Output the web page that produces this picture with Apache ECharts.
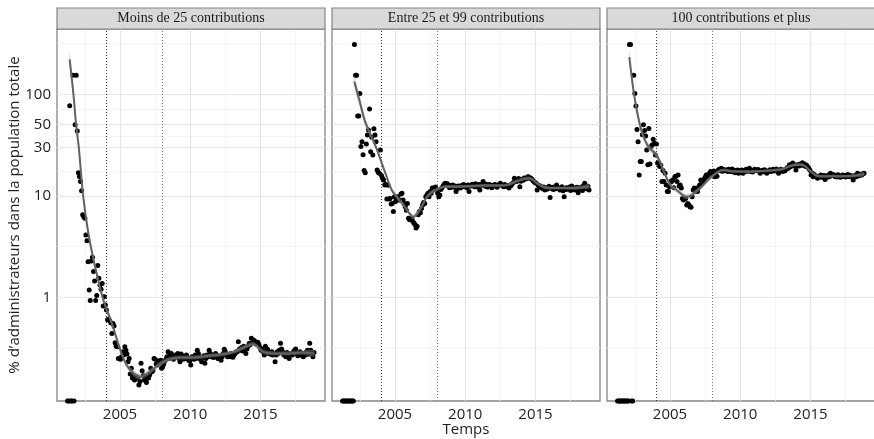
<!DOCTYPE html>
<html>
<head>
<meta charset="utf-8">
<script src="https://cdn.jsdelivr.net/npm/echarts@6/dist/echarts.min.js"></script>
<style>
  html, body { margin: 0; padding: 0; background: #fff; }
  #chart { width: 874px; height: 439px; }
</style>
</head>
<body>
<div id="chart"></div>
<script>
// facet titles
const panelTitles = ["Moins de 25 contributions", "Entre 25 et 99 contributions", "100 contributions et plus"];

// observations every 4 weeks (13 a year) from 2001.27 ; 0 = aucun (drawn on the bottom edge)
const startYear = 2001.27;
const perYear = 13;

const vals1 = [
  0, 0, 77, 0, 0, 154, 0, 50, 154, 43.5,
  16.9, 15.5, 13.8, 11.2, 6.5, 6.2, 6.0, 4.1, 3.6, 2.24, 1.18, 0.93, 2.28,
  2.48, 1.79, 1.45, 0.93, 1.04, 2.05, 1.54, 1.32, 1.2, 1.37, 0.82, 1.01, 0.84,
  0.75, 0.6, 0.61, 0.59, 0.56, 0.44, 0.55, 0.52, 0.357, 0.33, 0.326, 0.25, 0.25,
  0.245, 0.26, 0.29, 0.27, 0.326, 0.30, 0.276, 0.232, 0.25, 0.175, 0.2, 0.16, 0.17,
  0.153, 0.16, 0.165, 0.16, 0.137, 0.148, 0.224, 0.189, 0.17, 0.153, 0.165, 0.145, 0.16,
  0.16, 0.171, 0.2, 0.185, 0.19, 0.25, 0.245, 0.22, 0.215, 0.235, 0.228, 0.24, 0.2,
  0.207, 0.22, 0.235, 0.245, 0.26, 0.29, 0.25, 0.27, 0.28, 0.26, 0.245, 0.255, 0.27,
  0.26, 0.28, 0.25, 0.232, 0.276, 0.265, 0.245, 0.26, 0.25, 0.27, 0.255, 0.24, 0.235,
  0.215, 0.26, 0.25, 0.245, 0.27, 0.25, 0.30, 0.28, 0.26, 0.245, 0.232, 0.255, 0.265,
  0.224, 0.25, 0.27, 0.26, 0.30, 0.28, 0.26, 0.27, 0.255, 0.27, 0.28, 0.265, 0.25,
  0.25, 0.265, 0.24, 0.26, 0.28, 0.308, 0.29, 0.27, 0.26, 0.265, 0.26, 0.28, 0.27,
  0.256, 0.27, 0.28, 0.29, 0.29, 0.365, 0.31, 0.30, 0.32, 0.295, 0.33, 0.30, 0.28,
  0.31, 0.33, 0.35, 0.34, 0.394, 0.36, 0.38, 0.37, 0.35, 0.345, 0.36, 0.34, 0.32,
  0.30, 0.31, 0.29, 0.27, 0.33, 0.3, 0.308, 0.28, 0.285, 0.275, 0.29, 0.27, 0.28,
  0.232, 0.27, 0.29, 0.28, 0.3, 0.352, 0.31, 0.29, 0.27, 0.28, 0.26, 0.285, 0.28,
  0.25, 0.27, 0.28, 0.27, 0.29, 0.3, 0.31, 0.28, 0.265, 0.275, 0.29, 0.27, 0.28,
  0.26, 0.28, 0.27, 0.29, 0.3, 0.275, 0.352, 0.3, 0.28, 0.26, 0.285
];

const vals2 = [
  0, 0, 0, 0, 0, 0, 0, 0, 0, 0,
  0, 310, 154, 154, 61, 61, 102, 30.5, 34, 25.4, 17.7, 16.9, 32.4,
  39.8, 44.5, 71.6, 27.2, 37.7, 25.2, 45.8, 39.8, 34, 17.9, 17, 16.7, 28.3,
  15.8, 14.9, 14.3, 12.8, 13, 9.3, 12.7, 9.3, 9.4, 8.3, 8.4, 7.0, 9.8,
  8.8, 9.4, 9.8, 9.1, 9.1, 10.4, 10.6, 9.1, 8.4, 7.8, 7.2, 8.4, 6.0,
  5.8, 5.9, 6.0, 5.6, 5.4, 5.2, 4.8, 5.0, 6.5, 7.0, 6.8, 7.5, 8.1,
  8.6, 8.4, 9.8, 10.2, 10.6, 9.8, 11.0, 10.6, 11.9, 11.4, 11.9, 12.2, 11.5,
  10.6, 9.8, 10.2, 11.5, 12.0, 12.5, 13.0, 13.3, 13.0, 13.1, 12.4, 12.0, 12.6,
  12.2, 12.8, 12.1, 12.5, 11.0, 11.8, 12.5, 12.0, 11.9, 12.6, 12.3, 12.9, 12.5,
  12.3, 12.0, 12.8, 11.0, 12.4, 12.8, 13.0, 12.8, 12.3, 13.1, 12.6, 12.2, 12.9,
  11.4, 12.6, 13.0, 13.8, 12.8, 12.4, 13.0, 12.2, 12.3, 12.9, 12.5, 12.0, 12.7,
  12.5, 12.9, 12.5, 12.1, 12.7, 13.0, 13.3, 12.8, 12.6, 12.3, 12.9, 12.4, 12.6,
  12.2, 11.9, 12.8, 12.6, 13.1, 13.5, 14.9, 14.3, 13.8, 14.2, 14.8, 12.3, 13.9,
  14.5, 14.2, 15.0, 14.6, 14.8, 15.3, 15.4, 14.9, 15.0, 14.6, 14.2, 13.8, 13.5,
  13.3, 11.4, 12.8, 12.3, 12.5, 12.0, 11.8, 12.2, 11.4, 12.0, 11.6, 11.9, 12.4,
  9.6, 11.8, 12.1, 11.5, 12.2, 11.7, 12.8, 11.9, 12.0, 11.4, 11.6, 12.3, 11.2,
  9.8, 11.5, 12.0, 11.6, 11.9, 12.2, 11.3, 12.5, 11.8, 12.0, 11.4, 11.9, 12.1,
  10.7, 11.6, 11.9, 12.2, 11.3, 12.5, 13.3, 12.0, 11.7, 12.4, 11.4
];

const vals3 = [
  0, 0, 0, 0, 0, 0, 0, 0, 0, 0,
  0, 310, 310, 0, 0, 154, 102, 76.7, 45, 34, 16, 21.7, 21.7,
  40, 50, 44, 38.8, 28.3, 20.2, 46, 20.6, 30.5, 31.6, 36, 33, 25.2,
  32.4, 21, 21, 19.4, 20, 13.8, 17.7, 13.8, 16.7, 12.8, 11, 11, 12.3,
  13.8, 13.8, 14.3, 12, 15.4, 15.6, 13.8, 16, 12.5, 12.8, 11.9, 9.4, 9.1,
  9.4, 9.4, 8.1, 8.4, 8.1, 7.8, 7.7, 9.8, 11.4, 11.9, 11, 11.6, 11,
  12.2, 12.8, 14.3, 13.3, 13.8, 14.5, 15.2, 16, 15.4, 16.1, 16.7, 17.3, 16.9,
  16.2, 17.5, 15.4, 17, 15.6, 17.8, 18.2, 17.6, 18.7, 17.4, 18.1, 17.6, 17.9,
  17.9, 17.3, 18.2, 17.6, 17.3, 18.4, 17.1, 17.8, 16.9, 17.5, 17.9, 16.7, 17.6,
  17.3, 17.9, 16.7, 17.6, 17.3, 18.2, 17.4, 17.8, 18.7, 17.3, 17.8, 17.1, 17.9,
  18.3, 17.9, 17.6, 18.1, 17.4, 16.7, 17.5, 17.8, 17.2, 18.0, 17.6, 16.7, 17.3,
  17.6, 18.0, 17.3, 17.7, 18.3, 17.5, 17.9, 18.4, 17.6, 16.7, 17.8, 18.2, 17.7,
  17.3, 18.0, 17.6, 18.4, 19.0, 18.7, 20.2, 19.3, 19.8, 21, 20.4, 19.6, 17.9,
  19.8, 20.3, 19.7, 20.6, 20.1, 21.2, 19.9, 20.5, 19.4, 20.0, 19.2, 18.6, 17.8,
  16, 16.8, 15.4, 16.2, 15.7, 15.3, 14.9, 15.6, 15.2, 16.0, 15.5, 15.1, 15.8,
  14.5, 15.6, 15.2, 16.0, 15.4, 16.7, 15.8, 16.2, 16, 15.5, 15.9, 15.3, 16.1,
  15.7, 15.2, 15.4, 16.0, 15.6, 15.9, 15.3, 15.8, 16.2, 15.5, 15.9, 15.4, 15.7,
  14.3, 15.6, 15.9, 15.4, 16.7, 16.1, 15.8, 16.3, 16.0, 16.5, 16.7
];

// smoothed trend (geom_smooth) and its half band, in log10 units
const trendYears1 = [2001.42, 2001.69, 2001.88, 2002.07, 2002.38, 2002.75, 2003.23, 2003.82, 2004.41, 2005.0, 2005.47, 2005.94, 2006.42, 2007.13, 2007.84, 2008.5, 2009.3, 2010.3, 2011.3, 2012.3, 2013.1, 2013.8, 2014.5, 2015.2, 2016.0, 2017.0, 2018.0, 2018.81];
const trendVals1 = [221, 100, 50, 30, 10, 4.3, 2.0, 0.94, 0.56, 0.31, 0.215, 0.18, 0.165, 0.185, 0.22, 0.245, 0.255, 0.255, 0.265, 0.275, 0.29, 0.32, 0.345, 0.29, 0.28, 0.28, 0.285, 0.28];
const trendSe1 = [0.07, 0.06, 0.05, 0.045, 0.04, 0.035, 0.03, 0.03, 0.03, 0.03, 0.03, 0.03, 0.03, 0.028, 0.025, 0.022, 0.02, 0.02, 0.02, 0.02, 0.02, 0.022, 0.022, 0.022, 0.02, 0.02, 0.022, 0.03];

const trendYears2 = [2002.11, 2002.52, 2002.87, 2003.23, 2003.7, 2004.06, 2004.41, 2004.77, 2005.12, 2005.59, 2006.0, 2006.3, 2006.77, 2007.25, 2007.6, 2007.96, 2008.5, 2009.3, 2010.3, 2011.3, 2012.3, 2013.0, 2013.7, 2014.57, 2015.2, 2015.76, 2016.5, 2017.5, 2018.3, 2018.81];
const trendVals2 = [133, 82, 54, 41, 29, 21, 15.4, 11.4, 9.8, 8.2, 6.8, 6.2, 7.3, 9.6, 10.8, 11.5, 12.3, 12.3, 12.4, 12.6, 12.6, 12.8, 14.0, 14.9, 13.0, 12.0, 11.9, 11.9, 12.1, 12.4];
const trendSe2 = [0.06, 0.05, 0.04, 0.035, 0.03, 0.03, 0.028, 0.025, 0.025, 0.025, 0.025, 0.025, 0.025, 0.022, 0.02, 0.018, 0.016, 0.015, 0.015, 0.015, 0.015, 0.016, 0.016, 0.016, 0.016, 0.016, 0.015, 0.016, 0.018, 0.025];

const trendYears3 = [2002.11, 2002.4, 2002.64, 2002.99, 2003.46, 2004.06, 2004.77, 2005.12, 2005.47, 2006.18, 2007.0, 2007.96, 2008.78, 2009.5, 2010.67, 2011.5, 2012.3, 2013.0, 2013.74, 2014.4, 2015.0, 2015.5, 2016.5, 2017.5, 2018.3, 2018.81];
const trendVals3 = [232, 110, 70, 43, 30.5, 25, 14.9, 12.3, 11.4, 9.8, 11.4, 15.4, 17.9, 17.4, 17.3, 17.5, 17.8, 18.3, 20.0, 20.2, 17.5, 15.7, 15.6, 15.6, 15.9, 16.4];
const trendSe3 = [0.06, 0.05, 0.045, 0.04, 0.035, 0.03, 0.028, 0.025, 0.025, 0.025, 0.022, 0.018, 0.015, 0.014, 0.014, 0.014, 0.014, 0.015, 0.015, 0.015, 0.015, 0.015, 0.014, 0.014, 0.016, 0.022];

// axis breaks
const xLabels = [2005, 2010, 2015];
const xMinor = [2002.5, 2007.5, 2012.5, 2017.5];
const yLabels = [1, 10, 30, 50, 100];
const yMinor = [0.316, 3.16, 17.3, 38.7, 70.7, 316];
const periodLines = [2004, 2008];

const xMin = 2000.52, xMax = 2019.59;
const yMin = -1.022, yMax = 2.643;   // log10 scale

const panels = [
  { vals: vals1, ty: trendYears1, tv: trendVals1, se: trendSe1 },
  { vals: vals2, ty: trendYears2, tv: trendVals2, se: trendSe2 },
  { vals: vals3, ty: trendYears3, tv: trendVals3, se: trendSe3 }
];
const gridLefts = [57, 332, 607];
const gridW = 268, gridTop = 29, gridH = 372;

const lg = v => (v > 0 ? Math.log10(v) : yMin);

let myChart = echarts.init(document.getElementById('chart'), null, { renderer: 'canvas' });

let grids = [], xAxes = [], yAxes = [], series = [], graphics = [];

panels.forEach(function (p, k) {
  grids.push({
    left: gridLefts[k], top: gridTop, width: gridW, height: gridH,
    show: true, backgroundColor: '#fff', borderColor: '#858585', borderWidth: 1.3,
    containLabel: false, outerBoundsMode: 'none'
  });

  xAxes.push({
    type: 'value', gridIndex: k, min: xMin, max: xMax,
    axisLine: { show: false }, axisTick: { show: false }, splitLine: { show: false },
    axisLabel: {
      customValues: xLabels, margin: 6, fontSize: 15, color: '#222', fontFamily: 'Open Sans',
      formatter: v => String(v)
    },
    name: k === 1 ? 'Temps' : '', nameLocation: 'middle', nameGap: 21, nameMoveOverlap: false,
    nameTextStyle: { fontSize: 15, color: '#222', fontFamily: 'Open Sans' }
  });

  yAxes.push({
    type: 'value', gridIndex: k, min: yMin, max: yMax,
    axisLine: { show: false }, axisTick: { show: false }, splitLine: { show: false },
    axisLabel: {
      show: k === 0,
      customValues: yLabels.map(v => Math.log10(v)), margin: 6, fontSize: 15, color: '#222', fontFamily: 'Open Sans',
      formatter: v => String(Math.round(Math.pow(10, v)))
    },
    name: k === 0 ? "% d\u2019administrateurs dans la population totale" : '',
    nameLocation: 'middle', nameGap: 35, nameRotate: 90, nameMoveOverlap: false,
    nameTextStyle: { fontSize: 15, color: '#222', fontFamily: 'Open Sans' }
  });

  // grid lines + period markers
  let lines = [];
  xMinor.forEach(v => lines.push({ xAxis: v, lineStyle: { color: '#f3f3f3', width: 0.8, type: 'solid' } }));
  yMinor.forEach(v => lines.push({ yAxis: Math.log10(v), lineStyle: { color: '#f3f3f3', width: 0.8, type: 'solid' } }));
  xLabels.forEach(v => lines.push({ xAxis: v, lineStyle: { color: '#e6e6e6', width: 1.2, type: 'solid' } }));
  yLabels.forEach(v => lines.push({ yAxis: Math.log10(v), lineStyle: { color: '#e6e6e6', width: 1.2, type: 'solid' } }));
  lines.push({ xAxis: periodLines[0], lineStyle: { color: '#333', width: 1, type: [1, 2] } });
  lines.push({ xAxis: periodLines[1], lineStyle: { color: '#777', width: 1, type: [1, 2] } });

  series.push({
    type: 'scatter', xAxisIndex: k, yAxisIndex: k, z: 1, silent: true,
    symbolSize: 0, data: [[2010, 0]],
    markLine: { z: 1, symbol: ['none', 'none'], silent: true, label: { show: false }, animation: false, data: lines }
  });

  series.push({
    type: 'scatter', xAxisIndex: k, yAxisIndex: k, z: 3, silent: true,
    symbol: 'circle', symbolSize: 5,
    itemStyle: { color: '#000', borderWidth: 0, opacity: 1 },
    data: p.vals.map((v, i) => [startYear + i / perYear, lg(v)])
  });

  series.push({
    type: 'custom', xAxisIndex: k, yAxisIndex: k, z: 4, silent: true,
    data: [[p.ty[0], Math.log10(p.tv[0])]],
    renderItem: function (params, api) {
      const up = p.ty.map((x, j) => api.coord([x, Math.log10(p.tv[j]) + p.se[j]]));
      const lo = p.ty.map((x, j) => api.coord([x, Math.log10(p.tv[j]) - p.se[j]])).reverse();
      return {
        type: 'polygon',
        shape: { points: up.concat(lo), smooth: 0.3 },
        style: { fill: 'rgba(150,150,150,0.4)' }
      };
    }
  });

  series.push({
    type: 'line', xAxisIndex: k, yAxisIndex: k, z: 5, silent: true,
    smooth: 0.4, showSymbol: false, symbol: 'none',
    lineStyle: { color: '#626262', width: 2 },
    data: p.ty.map((x, j) => [x, Math.log10(p.tv[j])])
  });

  graphics.push({
    type: 'rect', shape: { x: gridLefts[k], y: 8, width: gridW, height: 21 },
    style: { fill: '#d9d9d9', stroke: '#858585', lineWidth: 1.2 }, z: 10
  });
  graphics.push({
    type: 'text', x: gridLefts[k] + gridW / 2, y: 18.5, z: 11,
    style: { text: panelTitles[k], font: '14px "Liberation Serif"', fill: '#1a1a1a', align: 'center', verticalAlign: 'middle' }
  });
});

let option = {
  animation: false,
  backgroundColor: '#fff',
  textStyle: { fontFamily: 'Open Sans' },
  grid: grids,
  xAxis: xAxes,
  yAxis: yAxes,
  series: series,
  graphic: graphics
};

myChart.setOption(option);
</script>
</body>
</html>
